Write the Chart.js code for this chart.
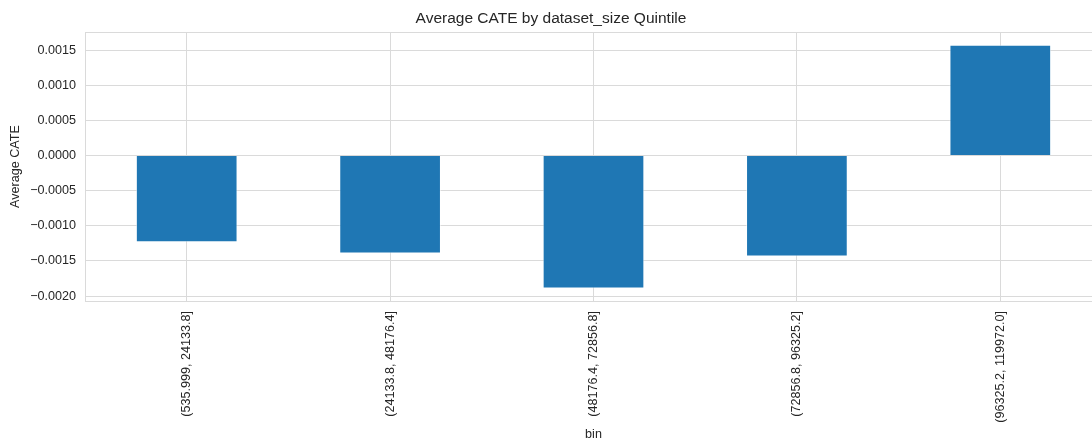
<!DOCTYPE html>
<html>
<head>
<meta charset="utf-8">
<script src="https://cdn.jsdelivr.net/npm/chart.js@4/dist/chart.umd.min.js"></script>
<style>
  html, body { margin: 0; padding: 0; background: #fff; overflow: hidden; }
  #wrap { width: 1102px; height: 442px; }
</style>
</head>
<body>
<div id="wrap"><canvas id="c" width="1102" height="442"></canvas></div>
<script>
// Quintile bins of dataset_size and their average CATE
const bins = ["(535.999, 24133.8]", "(24133.8, 48176.4]", "(48176.4, 72856.8]", "(72856.8, 96325.2]", "(96325.2, 119972.0]"];
const avgCate = [-0.001235, -0.001394, -0.001892, -0.001435, 0.001579];
const yTicks = [-0.002, -0.0015, -0.001, -0.0005, 0, 0.0005, 0.001, 0.0015];
const yMin = -0.00207;
const yMax = 0.00176;

const ink = '#262626';
const gridColor = '#dadada';
const font = { family: '"Liberation Sans", Arial, sans-serif', size: 12.6 };

// Frame line along the top of the plot area
const topFrame = {
  id: 'topFrame',
  beforeDatasetsDraw(chart) {
    const { ctx, chartArea: a } = chart;
    ctx.save();
    ctx.strokeStyle = gridColor;
    ctx.lineWidth = 1;
    ctx.beginPath();
    ctx.moveTo(a.left, Math.round(a.top) + 0.5);
    ctx.lineTo(a.right, Math.round(a.top) + 0.5);
    ctx.stroke();
    ctx.restore();
  }
};

new Chart(document.getElementById('c'), {
  type: 'bar',
  data: {
    labels: bins,
    datasets: [{
      data: avgCate,
      backgroundColor: '#1f77b4',
      borderColor: 'rgba(255,255,255,0.55)',
      borderWidth: 1,
      barPercentage: 0.5,
      categoryPercentage: 1.0
    }]
  },
  plugins: [topFrame],
  options: {
    responsive: false,
    animation: false,
    layout: { padding: { left: 0, right: 0, top: 0, bottom: 0 } },
    plugins: {
      legend: { display: false },
      tooltip: { enabled: false },
      title: {
        display: true,
        text: 'Average CATE by dataset_size Quintile',
        color: ink,
        font: { ...font, size: 15.5, weight: 'normal' },
        padding: { top: 9, bottom: 4.4 }
      }
    },
    scales: {
      x: {
        grid: { color: gridColor, lineWidth: 1, drawTicks: false, offset: false },
        border: { color: gridColor, width: 1 },
        ticks: { color: ink, font: font, minRotation: 90, maxRotation: 90, padding: 10, autoSkip: false },
        title: { display: true, text: 'bin', color: ink, font: font, padding: { top: 0, bottom: 0 } },
        afterFit: (s) => { s.height = 141; }
      },
      y: {
        min: yMin,
        max: yMax,
        grid: { color: gridColor, lineWidth: 1, drawTicks: false },
        border: { color: gridColor, width: 1 },
        afterBuildTicks: (s) => { s.ticks = yTicks.map(v => ({ value: v })); },
        ticks: {
          color: ink,
          font: font,
          padding: 9,
          callback: (v) => v.toFixed(4).replace('-', '\u2212')
        },
        title: { display: true, text: 'Average CATE', color: ink, font: font, padding: { top: 8, bottom: 0 } },
        afterFit: (s) => { s.width = 85; }
      }
    }
  }
});
</script>
</body>
</html>
